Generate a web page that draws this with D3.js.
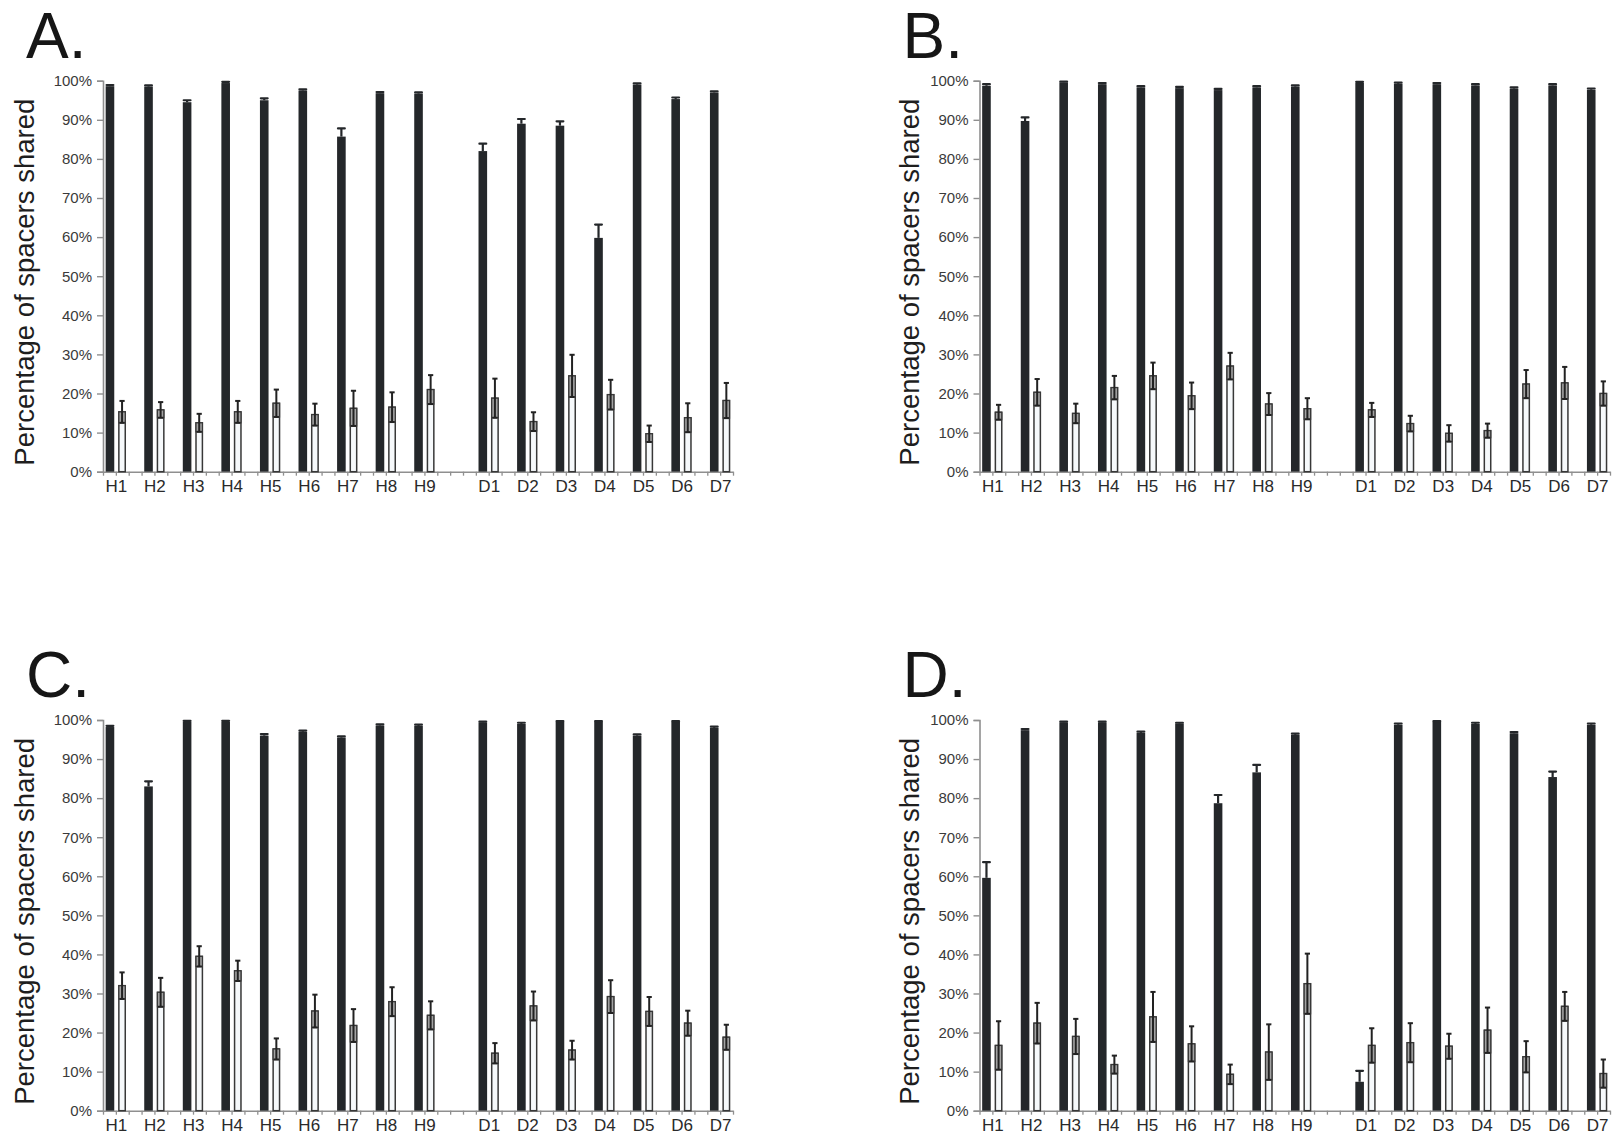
<!DOCTYPE html>
<html>
<head>
<meta charset="utf-8">
<script src="https://cdn.jsdelivr.net/npm/d3@7"></script>
<style>
  html, body { margin: 0; padding: 0; background: #ffffff; }
  svg { display: block; }
  text { font-family: "Liberation Sans", Arial, Helvetica, sans-serif; }
</style>
</head>
<body>
<svg id="fig" width="1617" height="1137"></svg>
<script>
// Isolates: nine H strains followed by seven D strains
const categories = ["H1","H2","H3","H4","H5","H6","H7","H8","H9","D1","D2","D3","D4","D5","D6","D7"];
const yTicks = [0,10,20,30,40,50,60,70,80,90,100];
const panelLabels = ["A.","B.","C.","D."];
const yTitle = "Percentage of spacers shared";

// Panel A
const blackA    = [98.6,98.5,94.5,99.4,95.0,97.5,85.7,96.8,96.7,82.0,89.0,88.5,59.8,99.0,95.3,97.0];
const blackErrA = [0.3,0.3,0.5,0.3,0.5,0.3,2.1,0.3,0.3,1.9,1.2,1.1,3.4,0.3,0.4,0.3];
const whiteA    = [15.3,15.8,12.5,15.3,17.5,14.6,16.2,16.5,21.0,18.8,12.8,24.5,19.7,9.7,13.8,18.2];
const whiteErrA = [2.8,2.0,2.3,2.8,3.5,2.8,4.5,3.8,3.7,5.0,2.4,5.4,3.8,2.1,3.7,4.5];

// Panel B
const blackB    = [98.7,89.7,99.6,99.1,98.3,98.1,97.6,98.3,98.5,99.5,99.2,99.1,98.8,98.0,98.8,97.7];
const blackErrB = [0.4,0.9,0.2,0.3,0.3,0.3,0.3,0.3,0.3,0.2,0.3,0.3,0.3,0.3,0.3,0.3];
const whiteB    = [15.2,20.3,14.9,21.5,24.5,19.4,27.0,17.3,16.1,15.8,12.3,9.8,10.5,22.4,22.7,20.0];
const whiteErrB = [1.9,3.4,2.5,3.0,3.4,3.4,3.4,2.8,2.7,1.8,2.0,2.1,1.8,3.6,4.1,3.1];

// Panel C
const blackC    = [98.2,83.0,99.6,99.6,96.0,97.0,95.5,98.6,98.5,99.4,99.0,99.5,99.5,96.0,99.5,98.0];
const blackErrC = [0.3,1.3,0.2,0.2,0.4,0.3,0.3,0.3,0.3,0.2,0.3,0.2,0.2,0.3,0.2,0.3];
const whiteC    = [32.0,30.3,39.5,35.8,15.8,25.5,21.8,27.9,24.4,14.7,26.8,15.5,29.2,25.4,22.4,18.8];
const whiteErrC = [3.4,3.7,2.6,2.6,2.7,4.2,4.2,3.7,3.6,2.6,3.7,2.4,4.2,3.7,3.2,3.2];

// Panel D
const blackD    = [59.6,97.4,99.4,99.4,96.7,99.1,78.7,86.6,96.2,7.4,98.8,99.5,99.0,96.6,85.4,98.8];
const blackErrD = [4.0,0.3,0.2,0.2,0.3,0.2,2.1,1.9,0.3,2.8,0.3,0.2,0.3,0.3,1.4,0.3];
const whiteD    = [16.7,22.4,19.0,11.8,24.0,17.1,9.3,15.0,32.5,16.7,17.4,16.5,20.6,13.8,26.7,9.5];
const whiteErrD = [6.2,5.2,4.5,2.3,6.4,4.5,2.5,7.1,7.7,4.4,5.0,3.2,5.8,4.0,3.7,3.6];

const series = [
  {black: blackA, blackErr: blackErrA, white: whiteA, whiteErr: whiteErrA},
  {black: blackB, blackErr: blackErrB, white: whiteB, whiteErr: whiteErrB},
  {black: blackC, blackErr: blackErrC, white: whiteC, whiteErr: whiteErrC},
  {black: blackD, blackErr: blackErrD, white: whiteD, whiteErr: whiteErrD}
];

// Panel frames in a 2x2 grid
const frames = [
  {x0: 103,   x1: 733,  yTop: 80.7, yBase: 471.7, titleX: 33.5},
  {x0: 979.5, x1: 1610, yTop: 80.7, yBase: 471.7, titleX: 919},
  {x0: 103,   x1: 733,  yTop: 720,  yBase: 1110.7, titleX: 33.5},
  {x0: 979.5, x1: 1610, yTop: 720,  yBase: 1110.7, titleX: 919}
];

// Category axis: three minor slots per strain, two extra slots between the H and D groups
const nH = categories.filter(c => c[0] === "H").length;
const slotOf = k => 1 + 3 * k + (k >= nH ? 2 : 0);
const nSlots = slotOf(categories.length - 1) + 1;

const BLACK = "#24272a";
const AXIS = "#8f8f8f";
const svg = d3.select("#fig");

series.forEach((s, p) => {
  const f = frames[p];
  const g = svg.append("g");
  const x = d3.scaleLinear().domain([0, nSlots]).range([f.x0, f.x1]);
  const y = d3.scaleLinear().domain([0, 100]).range([f.yBase, f.yTop]);

  // panel letter
  g.append("text")
    .attr("x", f.x0 - 77).attr("y", f.yTop - 22.8)
    .attr("font-size", 64).attr("fill", "#161616")
    .text(panelLabels[p]);

  // y axis title
  g.append("text")
    .attr("transform", `translate(${f.titleX},${(f.yTop + f.yBase) / 2 + 6}) rotate(-90)`)
    .attr("text-anchor", "middle")
    .attr("font-size", 27.5).attr("fill", "#1e1e1e")
    .text(yTitle);

  // y axis
  const ya = g.append("g").attr("transform", `translate(${f.x0},0)`)
    .call(d3.axisLeft(y).tickValues(yTicks).tickFormat(d => d + "%").tickSize(6).tickPadding(5));
  ya.select(".domain").attr("stroke", AXIS).attr("stroke-width", 1.6);
  ya.selectAll(".tick line").attr("stroke", AXIS).attr("stroke-width", 1.4);
  ya.selectAll(".tick text").attr("font-size", 15).attr("fill", "#3a3a3a")
    .attr("font-family", "'Liberation Sans', Arial, sans-serif");

  // x axis with minor slot ticks
  const xa = g.append("g").attr("transform", `translate(0,${f.yBase})`)
    .call(d3.axisBottom(x).tickValues(d3.range(0, nSlots + 1)).tickFormat("").tickSizeInner(4).tickSizeOuter(0));
  xa.select(".domain").attr("stroke", AXIS).attr("stroke-width", 1.6);
  xa.selectAll(".tick line").attr("stroke", AXIS).attr("stroke-width", 1.3);

  // category labels
  const xl = g.append("g").attr("transform", `translate(0,${f.yBase})`)
    .call(d3.axisBottom(x).tickValues(categories.map((c, k) => slotOf(k)))
      .tickFormat((d, i) => categories[i]).tickSize(0).tickPadding(8));
  xl.select(".domain").remove();
  xl.selectAll(".tick text").attr("font-size", 17).attr("fill", "#2a2a2a")
    .attr("font-family", "'Liberation Sans', Arial, sans-serif");

  const cx = k => x(slotOf(k));

  // black bars
  g.selectAll(".bk").data(s.black).join("rect")
    .attr("x", (d, k) => cx(k) - 10.2).attr("width", 8.6)
    .attr("y", d => y(d)).attr("height", d => y(0) - y(d))
    .attr("fill", BLACK);
  // black error bars (upper arm)
  g.selectAll(".bke").data(s.black).join("line")
    .attr("x1", (d, k) => cx(k) - 5.9).attr("x2", (d, k) => cx(k) - 5.9)
    .attr("y1", d => y(d)).attr("y2", (d, k) => y(d + s.blackErr[k]))
    .attr("stroke", BLACK).attr("stroke-width", 2.2);
  g.selectAll(".bkc").data(s.black).join("line")
    .attr("x1", (d, k) => cx(k) - 9.3).attr("x2", (d, k) => cx(k) - 2.5)
    .attr("y1", (d, k) => y(d + s.blackErr[k])).attr("y2", (d, k) => y(d + s.blackErr[k]))
    .attr("stroke", BLACK).attr("stroke-width", 2.2).attr("stroke-linecap", "round");

  // white bars
  g.selectAll(".wt").data(s.white).join("rect")
    .attr("x", (d, k) => cx(k) + 3).attr("width", 6.4)
    .attr("y", d => y(d)).attr("height", d => y(0) - y(d))
    .attr("fill", "#f6f9fb").attr("stroke", "#383838").attr("stroke-width", 1.5);
  // shaded lower error region inside the white bars
  g.selectAll(".wts").data(s.white).join("rect")
    .attr("x", (d, k) => cx(k) + 3).attr("width", 6.4)
    .attr("y", d => y(d)).attr("height", (d, k) => y(d - s.whiteErr[k]) - y(d))
    .attr("fill", "#a3a3a3").attr("stroke", "#383838").attr("stroke-width", 1.2);
  // white error bars
  g.selectAll(".wte").data(s.white).join("line")
    .attr("x1", (d, k) => cx(k) + 6.2).attr("x2", (d, k) => cx(k) + 6.2)
    .attr("y1", (d, k) => y(d - s.whiteErr[k])).attr("y2", (d, k) => y(d + s.whiteErr[k]))
    .attr("stroke", "#222").attr("stroke-width", 2);
  g.selectAll(".wtc").data(s.white).join("line")
    .attr("x1", (d, k) => cx(k) + 3.6).attr("x2", (d, k) => cx(k) + 8.8)
    .attr("y1", (d, k) => y(d + s.whiteErr[k])).attr("y2", (d, k) => y(d + s.whiteErr[k]))
    .attr("stroke", "#222").attr("stroke-width", 2);
  g.selectAll(".wtb").data(s.white).join("line")
    .attr("x1", (d, k) => cx(k) + 3.6).attr("x2", (d, k) => cx(k) + 8.8)
    .attr("y1", (d, k) => y(d - s.whiteErr[k])).attr("y2", (d, k) => y(d - s.whiteErr[k]))
    .attr("stroke", "#222").attr("stroke-width", 2);
});
</script>
</body>
</html>
